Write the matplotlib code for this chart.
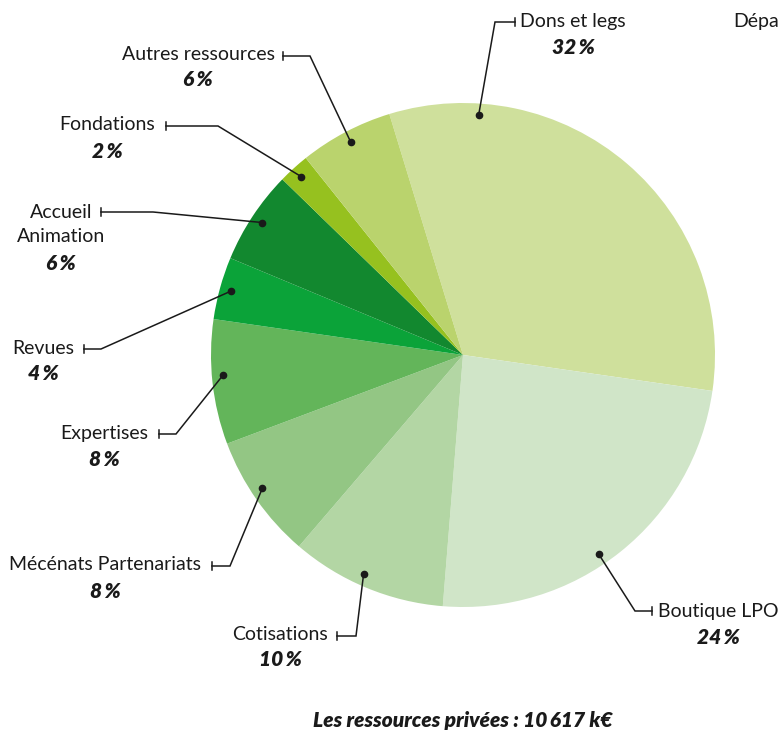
import numpy as np
import matplotlib.pyplot as plt

# private resources breakdown (percent)
labels = ['Dons et legs', 'Boutique LPO', 'Cotisations', 'Mécénats Partenariats',
          'Expertises', 'Revues', 'Accueil\nAnimation', 'Fondations', 'Autres ressources']
shares = [32, 24, 10, 8, 8, 4, 6, 2, 6]
colors = ['#cfe09c', '#d0e5c8', '#b3d6a4', '#93c684', '#63b55a',
          '#0ba339', '#12882f', '#96c11f', '#bad36d']

W, H = 780, 733
CX, CY, R = 463, 355, 252

# callout layout in pixel space (y from top): elbow, tick end, text centre, first line y
elbows = [(495, 22), (635, 611), (356, 636), (230, 566), (176, 434),
          (101, 349), (153, 212), (218, 126), (310, 56)]
ends = [515, 652, 337, 212, 159, 84, 101, 166, 283]
text_pos = [(573, 22), (718, 612), (280, 634), (105, 565), (104, 433),
            (43, 348), (61, 212), (107, 125), (198, 54)]
dot_frac = [0.18, 0.55, 0.55, 0.55, 0.55, 0.5, 0.5, 0.5, 0.5]

FONT = ['Lato', 'DejaVu Sans']
INK = '#1a1a1a'

def fy(y):
    return H - y

fig = plt.figure(figsize=(W / 100, H / 100), dpi=100)
ax = fig.add_axes([0, 0, 1, 1])

wedges, _ = ax.pie(shares, colors=colors, startangle=107, counterclock=False,
                   center=(CX, fy(CY)), radius=R, wedgeprops=dict(linewidth=0))
ax.set_xlim(0, W)
ax.set_ylim(0, H)
ax.set_aspect('equal')
ax.axis('off')

for i, w in enumerate(wedges):
    ang = np.deg2rad(w.theta2 - dot_frac[i] * (w.theta2 - w.theta1))
    dx = CX + 0.955 * R * np.cos(ang)
    dy = fy(CY) + 0.955 * R * np.sin(ang)
    ex, ey = elbows[i]
    ax.plot([dx, ex, ends[i]], [dy, fy(ey), fy(ey)], color=INK, lw=1.1,
            solid_joinstyle='miter')
    ax.plot([ends[i], ends[i]], [fy(ey) - 4, fy(ey) + 4], color=INK, lw=1.1)
    ax.plot(dx, dy, 'o', color=INK, ms=4.5)

    tx, ty = text_pos[i]
    lines = labels[i].split('\n')
    for k, line in enumerate(lines):
        ax.text(tx, fy(ty + 25 * k), line, ha='center', va='center',
                fontsize=14, color=INK, family=FONT)
    ax.text(tx, fy(ty + 25 * len(lines) + 1), f'{shares[i]}\u2009%', ha='center',
            va='center', fontsize=15, color=INK, family=FONT,
            fontweight='heavy', fontstyle='italic')

ax.text(463, fy(721), 'Les ressources privées : 10\u2009617 k€', ha='center', va='center',
        fontsize=15, color=INK, family=FONT, fontweight='heavy', fontstyle='italic')
ax.text(733, fy(22), 'Dépa', ha='left', va='center', fontsize=14, color=INK, family=FONT)

fig.savefig('out.png', dpi=100)
